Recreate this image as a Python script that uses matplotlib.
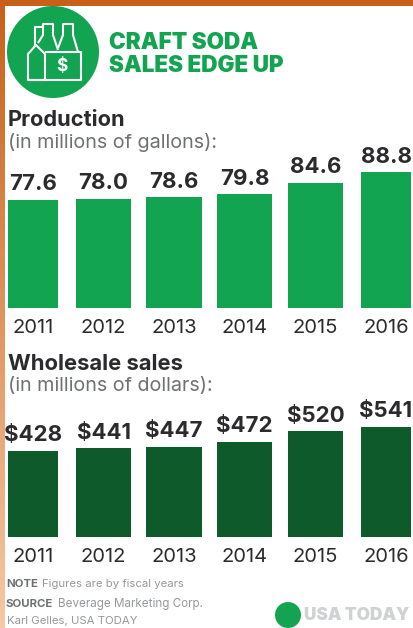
#!/usr/bin/env python3
# -*- coding: utf-8 -*-
import numpy as np
import matplotlib
matplotlib.use("Agg")
import matplotlib.pyplot as plt
from matplotlib.patches import Circle, Polygon, Rectangle

plt.rcParams['font.family'] = ['Inter', 'DejaVu Sans']

years = ['2011', '2012', '2013', '2014', '2015', '2016']
production = [77.6, 78.0, 78.6, 79.8, 84.6, 88.8]
sales = [428, 441, 447, 472, 520, 541]

W, H = 413, 628
GREEN = '#12a451'
DARK_GREEN = '#0e5a2b'
TEXT = '#2b2b2d'
GREY = '#6f7073'
LIGHT_GREY = '#97989b'
ORANGE = '#c8601a'

fig = plt.figure(figsize=(W / 100, H / 100), dpi=100, facecolor='white')

# overlay in pixel coordinates for the header, notes and logo
page = fig.add_axes([0, 0, 1, 1])
page.set_xlim(0, W)
page.set_ylim(H, 0)
page.axis('off')


def draw_bars(values, color, fmt, base_y, bottom_val, px_per_unit):
    # bars share a truncated baseline, 70.6 px between centres
    ax = fig.add_axes([0, (H - base_y) / H, 1, 145 / H])
    ax.patch.set_alpha(0)
    ax.set_xlim(-33 / 70.6, (W - 33) / 70.6)
    ax.set_ylim(bottom_val, bottom_val + 145 / px_per_unit)
    x = np.arange(len(values))
    widths = np.array([50, 55, 56, 55, 55, 50]) / 70.6
    bars = ax.bar(x, values, width=widths, color=color)
    for rect, v in zip(bars, values):
        ax.annotate(fmt.format(v), (rect.get_x() + rect.get_width() / 2, v),
                    xytext=(0, 4), textcoords='offset points', ha='center', va='bottom',
                    fontsize=16, fontweight='bold', color=TEXT)
    ax.set_xticks(x)
    ax.set_xticklabels(years, fontsize=14.5, color=TEXT)
    ax.tick_params(axis='x', length=0, pad=8)
    ax.set_yticks([])
    for s in ax.spines.values():
        s.set_visible(False)
    return ax


draw_bars(production, GREEN, '{:.1f}', 308, 33.9, 2.475)
draw_bars(sales, DARK_GREEN, '${:d}', 537, 22, 0.212)

# orange frame along the top and fading down the left side
page.add_patch(Rectangle((0, 0), W, 5.5, color=ORANGE, lw=0))
fade = np.linspace(0, 1, 256).reshape(-1, 1)
rgb0 = np.array(matplotlib.colors.to_rgb(ORANGE))
rgb1 = np.array(matplotlib.colors.to_rgb('#f5c9a6'))
page.imshow((rgb0 + (rgb1 - rgb0) * fade).reshape(-1, 1, 3), extent=(0, 4.5, H, 0), aspect='auto')
page.set_xlim(0, W)
page.set_ylim(H, 0)

# round badge with the six-pack icon
page.add_patch(Circle((53, 52), 46, color=GREEN, lw=0))
icon = dict(fill=False, edgecolor='white', lw=1.5, joinstyle='round')
back_bottle = [(35, 47), (35, 27), (43, 27)]
left_bottle = [(38, 43), (43, 35), (43, 24), (53, 24), (53, 35), (58, 50)]
right_bottle = [(58, 48), (63, 35), (63, 24), (73, 24), (73, 35), (78, 52)]
page.add_patch(Polygon(back_bottle, closed=False, **icon))
page.add_patch(Polygon(left_bottle, closed=False, **icon))
page.add_patch(Polygon(right_bottle, closed=False, **icon))
page.add_patch(Polygon([(28, 80), (28, 54), (36, 45), (45, 54), (45, 80)], closed=True, **icon))
page.add_patch(Polygon([(45, 52), (81, 52), (81, 80), (28, 80)], closed=False, **icon))
page.text(62, 66.5, '$', color='white', fontsize=12.5, fontweight='bold', ha='center', va='center')

page.text(109, 43, 'CRAFT SODA', color=GREEN, fontsize=16.2, fontweight='black', va='center')
page.text(109, 66, 'SALES EDGE UP', color=GREEN, fontsize=16.2, fontweight='black', va='center')

page.text(8, 120, 'Production', color=TEXT, fontsize=15.7, fontweight='bold', va='center')
page.text(8, 142, '(in millions of gallons):', color=GREY, fontsize=14.2, va='center')
page.text(8, 364, 'Wholesale sales', color=TEXT, fontsize=15.8, fontweight='bold', va='center')
page.text(8, 386, '(in millions of dollars):', color=GREY, fontsize=14.2, va='center')

# notes
page.text(6, 584, 'NOTE', color=GREY, fontsize=8.2, fontweight='bold', va='center')
page.text(42, 584, 'Figures are by fiscal years', color=LIGHT_GREY, fontsize=8.2, va='center')
page.text(6, 604, 'SOURCE', color=GREY, fontsize=8.2, fontweight='bold', va='center')
page.text(58, 604, 'Beverage Marketing Corp.', color=LIGHT_GREY, fontsize=8.4, va='center')
page.text(7, 621, 'Karl Gelles, USA TODAY', color=LIGHT_GREY, fontsize=8.2, va='center')

# logo
page.add_patch(Circle((288, 615), 13, color=GREEN, lw=0))
page.text(304, 615, 'USA TODAY', color='#d0d1d3', fontsize=12.4, fontweight='black', va='center')

fig.savefig('out.png', dpi=100)
